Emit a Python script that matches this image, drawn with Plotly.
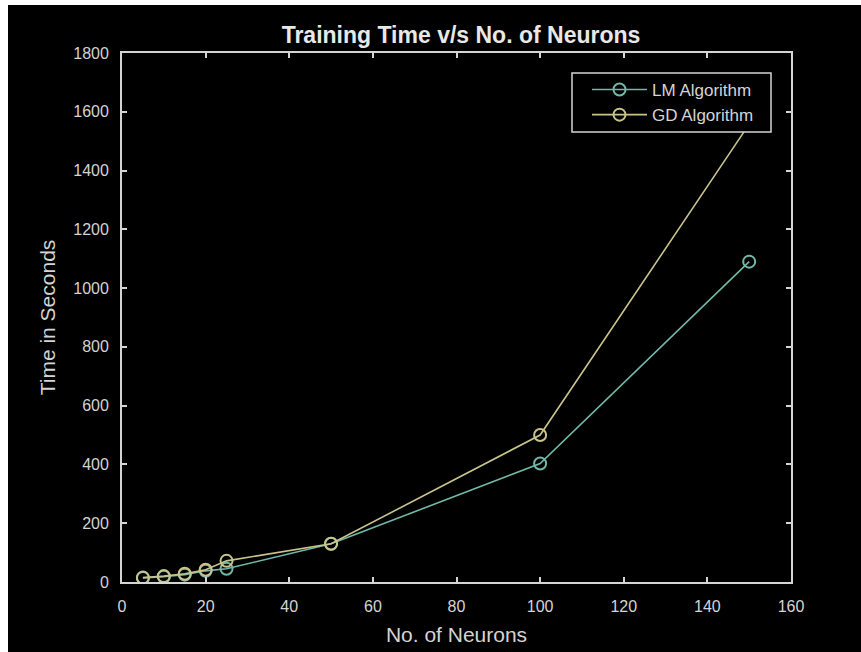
import plotly.graph_objects as go

neurons = [5, 10, 15, 20, 25, 50, 100, 150]
lm_time = [14, 18, 25, 38, 45, 130, 403, 1090]
gd_time = [15, 20, 28, 42, 72, 130, 500, 1558]

x_ticks = [0, 20, 40, 60, 80, 100, 120, 140, 160]
y_ticks = [0, 200, 400, 600, 800, 1000, 1200, 1400, 1600, 1800]

LM_COLOR = "#72b8a8"
GD_COLOR = "#c9c48c"
FG = "#d4d4d4"
FONT = "Arial, Liberation Sans, sans-serif"

fig = go.Figure()
fig.add_trace(go.Scatter(
    x=neurons, y=lm_time, name="LM Algorithm", mode="lines+markers",
    line=dict(color=LM_COLOR, width=1.6),
    marker=dict(symbol="circle-open", size=12, color=LM_COLOR, line=dict(width=2)),
))
fig.add_trace(go.Scatter(
    x=neurons, y=gd_time, name="GD Algorithm", mode="lines+markers",
    line=dict(color=GD_COLOR, width=1.6),
    marker=dict(symbol="circle-open", size=12, color=GD_COLOR, line=dict(width=2)),
))

L, R, T, B = 122, 70, 53, 70
W, H = 861, 652
pw, ph = W - L - R, H - T - B

def px(xp):
    return (xp - L) / pw

def py(yp):
    return (H - B - yp) / ph

# white strips on the left and top edges of the picture
fig.add_shape(type="rect", xref="paper", yref="paper",
              x0=px(-5), x1=px(8), y0=py(H + 5), y1=py(-5),
              fillcolor="white", line=dict(width=0), layer="below")
fig.add_shape(type="rect", xref="paper", yref="paper",
              x0=px(-5), x1=px(W + 5), y0=py(5), y1=py(-5),
              fillcolor="white", line=dict(width=0), layer="below")

# legend box (drawn above traces to cover them, as in the reference)
fig.add_shape(type="rect", xref="paper", yref="paper",
              x0=px(572), x1=px(771), y0=py(132), y1=py(73),
              fillcolor="black", line=dict(color=FG, width=1.5), layer="above")

axis_common = dict(
    showgrid=False, zeroline=False, showline=True, linecolor=FG, linewidth=1.8,
    mirror="ticks", ticks="inside", ticklen=5, tickcolor=FG, tickwidth=1.5,
    tickfont=dict(family=FONT, size=16, color=FG), automargin=False,
)

fig.update_layout(
    width=W, height=H,
    margin=dict(l=L, r=R, t=T, b=B, autoexpand=False),
    paper_bgcolor="black", plot_bgcolor="black",
    title=dict(text="<b>Training Time v/s No. of Neurons</b>", x=461 / W, xanchor="center",
               y=1 - 35 / H, yanchor="middle",
               font=dict(family=FONT, size=23, color="#e8e8e8")),
    xaxis=dict(range=[0, 160], tickvals=x_ticks, ticklabelstandoff=9,
               title=dict(text="No. of Neurons", standoff=13,
                          font=dict(family=FONT, size=21, color=FG)),
               **axis_common),
    yaxis=dict(range=[0, 1800], tickvals=y_ticks, ticklabelstandoff=8,
               title=dict(text="Time in Seconds", standoff=12,
                          font=dict(family=FONT, size=21, color=FG)),
               **axis_common),
    legend=dict(x=px(587), xanchor="left", y=py(72), yanchor="top",
                bgcolor="rgba(0,0,0,0)", borderwidth=0,
                font=dict(family=FONT, size=17, color=FG),
                itemwidth=55, tracegroupgap=0),
    showlegend=True,
)

fig.write_html("out.html")
